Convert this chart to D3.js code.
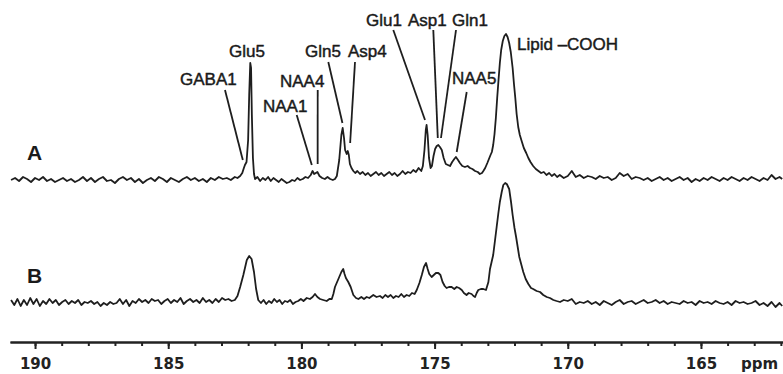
<!DOCTYPE html>
<html>
<head>
<meta charset="utf-8">
<script src="https://cdn.jsdelivr.net/npm/d3@7"></script>
<style>
  body { margin: 0; background: #fff; }
  .axis text { font-family: "DejaVu Sans", sans-serif; font-weight: bold; font-size: 15px; fill: #222; }
  .axis path, .axis line { stroke: #222; stroke-width: 2px; }
  .lbl { font-family: "Liberation Sans", Arial, sans-serif; font-size: 17px; fill: #1a1a1a; stroke: #1a1a1a; stroke-width: 0.45px; }
</style>
</head>
<body>
<div id="chart"></div>
<script>
// spectrum A: [ppm, intensity]
const traceA = [
  [190.90,0],[190.75,2],[190.60,-1],[190.45,3],[190.30,1],[190.15,-2],[190.00,2],[189.85,0],[189.70,3],[189.55,-1],
  [189.40,1],[189.25,-2],[189.10,0],[188.95,2],[188.80,-1],[188.65,1],[188.50,-2],[188.35,0],[188.20,3],[188.05,-1],
  [187.90,2],[187.75,-2],[187.60,1],[187.45,3],[187.30,-1],[187.15,0],[187.00,-3],[186.85,1],[186.70,3],[186.55,0],
  [186.40,2],[186.25,-2],[186.10,1],[185.95,-3],[185.80,0],[185.65,2],[185.50,-1],[185.35,3],[185.20,1],[185.05,-2],
  [184.90,2],[184.75,0],[184.60,-2],[184.45,1],[184.30,3],[184.15,0],[184.00,2],[183.85,-1],[183.70,1],[183.55,-2],
  [183.40,2],[183.25,0],[183.10,3],[182.95,1],[182.80,2],[182.65,0],[182.50,3],[182.40,2],[182.30,4],[182.22,7],
  [182.16,12],[182.12,15],[182.06,18],[182.00,40],[181.96,85],[181.92,117],[181.89,112],[181.86,65],[181.82,22],[181.78,6],
  [181.74,1],[181.65,3],[181.55,-1],[181.45,2],[181.35,0],[181.25,3],[181.15,-1],[181.05,2],[180.95,0],[180.85,-2],
  [180.75,1],[180.65,-1],[180.55,-3],[180.45,-2],[180.35,0],[180.25,-1],[180.15,2],[180.05,0],[179.95,1],[179.85,3],
  [179.75,2],[179.65,5],[179.58,9],[179.52,6],[179.46,7],[179.40,8],[179.32,4],[179.22,2],[179.12,1],[179.02,3],
  [178.92,1],[178.82,0],[178.74,1],[178.67,4],[178.58,20],[178.50,45],[178.45,52],[178.40,42],[178.36,30],[178.30,26],
  [178.26,29],[178.22,25],[178.18,16],[178.12,12],[178.05,9],[177.98,7],[177.90,9],[177.80,6],[177.70,8],[177.60,5],
  [177.50,7],[177.40,4],[177.30,6],[177.20,8],[177.10,5],[177.00,7],[176.90,4],[176.80,6],[176.70,8],[176.60,5],
  [176.50,7],[176.40,4],[176.30,6],[176.20,9],[176.10,6],[176.00,8],[175.90,7],[175.80,10],[175.70,8],[175.60,12],
  [175.50,9],[175.44,14],[175.38,30],[175.33,50],[175.30,55],[175.26,45],[175.21,22],[175.15,12],[175.10,14],[175.04,24],
  [174.98,31],[174.92,34],[174.86,35],[174.80,33],[174.73,30],[174.66,22],[174.58,16],[174.50,15],[174.42,14],[174.34,18],
  [174.26,21],[174.20,23],[174.12,20],[174.05,17],[173.96,14],[173.86,13],[173.76,14],[173.67,12],[173.58,11],[173.48,9],
  [173.38,8],[173.30,6],[173.22,7],[173.17,9],[173.10,12],[173.02,17],[172.96,21],[172.90,25],[172.85,28],[172.80,35],
  [172.75,46],[172.70,62],[172.65,82],[172.60,100],[172.55,117],[172.50,130],[172.44,139],[172.38,144],[172.32,146],[172.26,143],
  [172.20,137],[172.14,128],[172.07,112],[172.02,96],[171.97,82],[171.92,66],[171.86,53],[171.80,45],[171.72,38],[171.65,32],
  [171.56,27],[171.48,22],[171.40,18],[171.30,14],[171.20,11],[171.10,9],[171.00,7],[170.90,8],[170.80,5],[170.70,7],
  [170.60,4],[170.50,6],[170.40,3],[170.30,5],[170.15,2],[170.00,4],[169.85,9],[169.70,3],[169.55,5],[169.40,2],
  [169.25,4],[169.10,3],[168.95,1],[168.80,4],[168.65,2],[168.50,3],[168.35,0],[168.20,2],[168.05,7],[167.90,4],
  [167.75,6],[167.60,1],[167.45,3],[167.30,2],[167.15,0],[167.00,2],[166.85,-1],[166.70,1],[166.55,3],[166.40,0],
  [166.25,2],[166.10,-1],[165.95,1],[165.80,3],[165.65,0],[165.50,2],[165.35,-2],[165.20,1],[165.05,-1],[164.90,2],
  [164.75,0],[164.60,3],[164.45,1],[164.30,-1],[164.15,2],[164.00,0],[163.85,3],[163.70,1],[163.55,-1],[163.40,2],
  [163.25,0],[163.10,3],[162.95,1],[162.80,-1],[162.65,2],[162.50,0],[162.35,5],[162.20,1],[162.05,3],[161.95,1]
];

// spectrum B: [ppm, intensity]
const traceB = [
  [190.90,2],[190.78,-3],[190.66,3],[190.54,-4],[190.42,2],[190.30,-3],[190.18,4],[190.06,-2],[189.94,3],[189.82,-4],
  [189.70,1],[189.58,-2],[189.46,3],[189.34,-1],[189.22,2],[189.10,-3],[188.98,0],[188.86,2],[188.74,-2],[188.62,1],
  [188.50,-1],[188.38,2],[188.26,-3],[188.14,0],[188.02,-1],[187.90,1],[187.78,-2],[187.66,0],[187.54,-4],[187.42,-1],
  [187.30,-3],[187.18,0],[187.06,-2],[186.94,-1],[186.82,3],[186.70,-2],[186.58,2],[186.46,-4],[186.34,1],[186.22,-1],
  [186.10,3],[185.98,0],[185.86,2],[185.74,-1],[185.62,3],[185.50,1],[185.38,2],[185.26,-2],[185.14,1],[185.02,3],
  [184.90,-1],[184.78,2],[184.66,0],[184.54,4],[184.42,-2],[184.30,1],[184.18,3],[184.06,0],[183.94,2],[183.82,-1],
  [183.70,4],[183.58,0],[183.46,2],[183.34,-1],[183.22,3],[183.10,0],[182.98,4],[182.86,2],[182.74,3],[182.62,1],
  [182.50,2],[182.40,6],[182.30,15],[182.18,27],[182.05,42],[181.96,46],[181.87,43],[181.78,30],[181.70,13],[181.62,2],
  [181.52,-1],[181.42,2],[181.32,-2],[181.22,1],[181.12,-1],[181.02,3],[180.92,0],[180.82,2],[180.72,-2],[180.62,1],
  [180.52,0],[180.42,2],[180.32,-2],[180.22,0],[180.12,1],[180.02,3],[179.92,1],[179.80,4],[179.68,3],[179.58,5],
  [179.49,8],[179.40,5],[179.30,3],[179.18,2],[179.05,1],[178.95,3],[178.86,3],[178.80,8],[178.74,15],[178.66,20],
  [178.58,25],[178.50,30],[178.43,33],[178.38,28],[178.33,24],[178.24,20],[178.15,15],[178.05,7],[177.95,4],[177.86,3],
  [177.75,5],[177.65,3],[177.55,5],[177.45,4],[177.30,7],[177.18,5],[177.05,6],[176.95,4],[176.85,7],[176.75,5],
  [176.65,7],[176.55,4],[176.45,6],[176.35,5],[176.25,8],[176.15,5],[176.05,7],[175.95,6],[175.85,9],[175.75,8],
  [175.67,12],[175.57,19],[175.48,27],[175.40,35],[175.32,39],[175.26,33],[175.20,28],[175.11,25],[175.03,27],[174.95,29],
  [174.86,29],[174.78,27],[174.70,20],[174.62,16],[174.55,14],[174.46,15],[174.36,15],[174.26,13],[174.17,15],[174.08,14],
  [173.98,12],[173.90,9],[173.80,7],[173.72,9],[173.61,8],[173.54,6],[173.48,5],[173.42,9],[173.36,12],[173.26,13],
  [173.17,13],[173.07,12],[172.98,20],[172.92,33],[172.86,40],[172.80,47],[172.73,62],[172.67,75],[172.61,88],[172.55,100],
  [172.48,110],[172.42,117],[172.35,119],[172.29,118],[172.20,113],[172.13,100],[172.07,87],[172.00,74],[171.94,65],[171.88,55],
  [171.82,45],[171.74,37],[171.67,30],[171.58,23],[171.48,18],[171.38,14],[171.30,13],[171.17,11],[171.04,10],[170.92,7],
  [170.79,5],[170.67,4],[170.54,2],[170.42,1],[170.29,0],[170.15,2],[170.00,1],[169.85,3],[169.70,-2],[169.55,0],
  [169.40,-1],[169.25,1],[169.10,-2],[168.95,0],[168.80,-3],[168.65,1],[168.50,-1],[168.35,-3],[168.20,0],[168.05,2],
  [167.90,-2],[167.75,0],[167.60,1],[167.45,-2],[167.30,0],[167.15,2],[167.00,-1],[166.85,0],[166.70,2],[166.55,-1],
  [166.40,1],[166.25,-2],[166.10,0],[165.95,-1],[165.80,-2],[165.65,1],[165.50,-1],[165.35,0],[165.20,-3],[165.05,1],
  [164.90,-1],[164.75,0],[164.60,-2],[164.45,1],[164.30,-1],[164.15,-2],[164.00,0],[163.85,-3],[163.70,1],[163.55,-1],
  [163.40,0],[163.25,-2],[163.10,-1],[162.95,1],[162.80,-3],[162.65,-1],[162.50,-4],[162.35,0],[162.20,-5],[162.05,-1],[161.95,-4]
];

const majorTicks = [190, 185, 180, 175, 170, 165];
const minorTicks = d3.range(162, 191);

// peak assignments and the ppm each leader line points at
const peakNames = ["GABA1", "Glu5", "NAA1", "NAA4", "Gln5", "Asp4", "Glu1", "Asp1", "Gln1", "NAA5", "Lipid \u2013COOH"];
const peakPpm   = [182.20, 181.92, 179.61, 179.39, 178.46, 178.17, 175.36, 174.88, 174.76, 174.17, 172.32];

// label layout (pixels): text x, baseline y, leader top x/y, leader bottom y (null = no leader)
const labelPos = [
  {tx: 180, ty: 85,  lx: 225,   ly: 90,  by: 160},
  {tx: 229, ty: 57,  lx: null},
  {tx: 263, ty: 112, lx: 296.7, ly: 115, by: 165},
  {tx: 280, ty: 87,  lx: 317.7, ly: 90,  by: 164},
  {tx: 305, ty: 57,  lx: 328.3, ly: 62,  by: 123},
  {tx: 348, ty: 57,  lx: 355,   ly: 62,  by: 143},
  {tx: 366, ty: 26,  lx: 393.3, ly: 30,  by: 120},
  {tx: 408, ty: 26,  lx: 433.3, ly: 30,  by: 138},
  {tx: 452, ty: 26,  lx: 456,   ly: 30,  by: 138},
  {tx: 452, ty: 84,  lx: 466.7, ly: 92,  by: 152},
  {tx: 517, ty: 50,  lx: null}
];

const width = 783, height = 374;

const svg = d3.select("#chart").append("svg")
    .attr("width", width)
    .attr("height", height);

const x = d3.scaleLinear().domain([190.94, 161.92]).range([10, 783]);
// 1 intensity unit ~ 1 px, each trace on its own baseline
const yA = d3.scaleLinear().domain([0, 146]).range([180, 34]);
const yB = d3.scaleLinear().domain([0, 120]).range([302, 182]);

const lineA = d3.line().x(d => x(d[0])).y(d => yA(d[1]));
const lineB = d3.line().x(d => x(d[0])).y(d => yB(d[1]));

svg.append("path")
    .attr("d", lineA(traceA))
    .attr("fill", "none")
    .attr("stroke", "#1e1e1e")
    .attr("stroke-width", 1.8)
    .attr("stroke-linejoin", "round");

svg.append("path")
    .attr("d", lineB(traceB))
    .attr("fill", "none")
    .attr("stroke", "#1e1e1e")
    .attr("stroke-width", 1.8)
    .attr("stroke-linejoin", "round");

// spectrum letters
svg.append("text").attr("x", 27).attr("y", 160)
    .style("font-family", "Liberation Sans, Arial, sans-serif")
    .style("font-weight", "bold").style("font-size", "21px").style("fill", "#1a1a1a")
    .text("A");
svg.append("text").attr("x", 27).attr("y", 283)
    .style("font-family", "Liberation Sans, Arial, sans-serif")
    .style("font-weight", "bold").style("font-size", "21px").style("fill", "#1a1a1a")
    .text("B");

// peak labels and leader lines
peakNames.forEach((name, i) => {
    const p = labelPos[i];
    svg.append("text").attr("class", "lbl")
        .attr("x", p.tx).attr("y", p.ty)
        .text(name);
    if (p.lx !== null) {
        svg.append("line")
            .attr("x1", p.lx).attr("y1", p.ly)
            .attr("x2", x(peakPpm[i])).attr("y2", p.by)
            .attr("stroke", "#1e1e1e")
            .attr("stroke-width", 1.8);
    }
});

// x axis: minor ticks first, then labelled major ticks
const axisY = 342;
svg.append("g")
    .attr("class", "axis")
    .attr("transform", `translate(0,${axisY})`)
    .call(d3.axisBottom(x).tickValues(minorTicks).tickSize(4).tickSizeOuter(0).tickFormat(""));

svg.append("g")
    .attr("class", "axis")
    .attr("transform", `translate(0,${axisY})`)
    .call(d3.axisBottom(x).tickValues(majorTicks).tickSize(7).tickSizeOuter(0).tickPadding(9));

svg.append("text")
    .attr("x", 741).attr("y", 369)
    .style("font-family", "DejaVu Sans, sans-serif")
    .style("font-weight", "bold").style("font-size", "15px").style("fill", "#222")
    .text("ppm");
</script>
</body>
</html>
